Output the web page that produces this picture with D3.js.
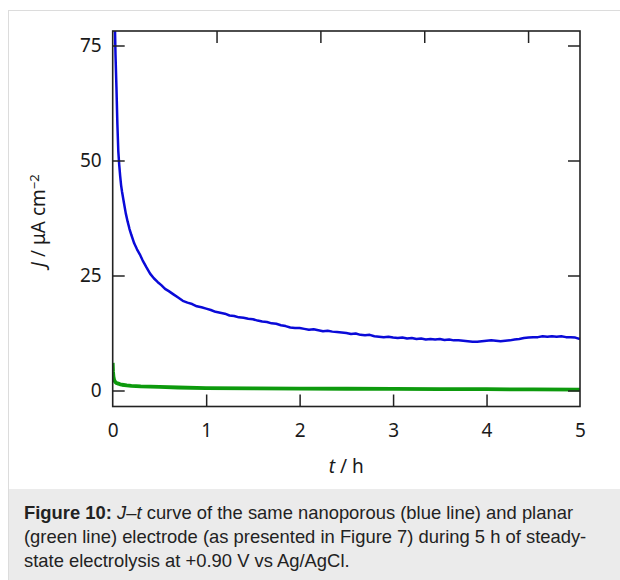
<!DOCTYPE html>
<html>
<head>
<meta charset="utf-8">
<script src="https://cdn.jsdelivr.net/npm/d3@7"></script>
<style>
  html, body { margin: 0; padding: 0; background: #fff; }
  svg { display: block; }
</style>
</head>
<body>
<svg id="chart" width="620" height="580"></svg>
<script>
// Nanoporous electrode current density (µA cm⁻²) over time (h)
const blueT = [0, 0.005, 0.01, 0.015, 0.02, 0.025, 0.03, 0.04, 0.05, 0.06, 0.07, 0.08, 0.09, 0.10,
  0.12, 0.14, 0.16, 0.18, 0.20, 0.23, 0.26, 0.29, 0.32, 0.36, 0.40, 0.44, 0.48, 0.52, 0.56, 0.60,
  0.65, 0.70, 0.75, 0.80, 0.85, 0.90, 0.95, 1.00, 1.05, 1.10, 1.15, 1.20, 1.25, 1.30, 1.35, 1.40,
  1.45, 1.50, 1.55, 1.60, 1.65, 1.70, 1.75, 1.80, 1.85, 1.90, 1.95, 2.00, 2.05, 2.10, 2.15, 2.20,
  2.25, 2.30, 2.35, 2.40, 2.45, 2.50, 2.55, 2.60, 2.65, 2.70, 2.75, 2.80, 2.85, 2.90, 2.95, 3.00,
  3.05, 3.10, 3.15, 3.20, 3.25, 3.30, 3.35, 3.40, 3.45, 3.50, 3.55, 3.60, 3.65, 3.70, 3.75, 3.80,
  3.85, 3.90, 3.95, 4.00, 4.05, 4.10, 4.15, 4.20, 4.25, 4.30, 4.35, 4.40, 4.45, 4.50, 4.55, 4.60,
  4.65, 4.70, 4.75, 4.80, 4.85, 4.90, 4.95, 5.00];
const blueJ = [160, 120, 98, 88, 82, 78, 73, 66, 58, 52, 49, 46.6, 44.6, 43.2,
  40.8, 38.5, 36.7, 35.1, 33.8, 32.0, 30.7, 29.6, 28.3, 26.8, 25.4, 24.4, 23.6, 22.9, 22.1, 21.6,
  20.9, 20.2, 19.5, 19.1, 18.8, 18.3, 18.1, 17.8, 17.5, 17.1, 16.9, 16.7, 16.3, 16.2, 15.9, 15.8,
  15.6, 15.5, 15.2, 15.0, 14.9, 14.6, 14.5, 14.2, 14.0, 13.7, 13.6, 13.6, 13.4, 13.2, 13.3, 13.1,
  12.9, 13.0, 12.8, 12.7, 12.6, 12.5, 12.3, 12.4, 12.1, 12.0, 12.1, 11.8, 11.7, 11.6, 11.7, 11.5,
  11.4, 11.5, 11.3, 11.4, 11.2, 11.3, 11.1, 11.2, 11.1, 11.2, 11.0, 11.1, 10.9, 10.9, 10.8, 10.7,
  10.6, 10.6, 10.7, 10.8, 10.9, 10.8, 10.7, 10.8, 10.9, 11.1, 11.2, 11.4, 11.5, 11.6, 11.6, 11.8,
  11.7, 11.8, 11.7, 11.8, 11.6, 11.6, 11.5, 11.2];

// Planar electrode current density
const greenT = [0, 0.003, 0.008, 0.015, 0.025, 0.04, 0.06, 0.08, 0.10, 0.15, 0.20, 0.30, 0.40,
  0.50, 0.70, 1.00, 1.50, 2.00, 2.50, 3.00, 3.50, 4.00, 4.50, 5.00];
const greenJ = [6.0, 4.2, 3.0, 2.3, 1.9, 1.65, 1.5, 1.35, 1.25, 1.1, 1.0, 0.9, 0.85,
  0.8, 0.65, 0.5, 0.45, 0.4, 0.38, 0.35, 0.3, 0.28, 0.25, 0.2];

const xTicks = [0, 1, 2, 3, 4, 5];
const yTicks = [0, 25, 50, 75];
const topTicks = [1, 2, 3, 4];

const svg = d3.select("#chart");
const W = 620, H = 580;

// outer panel and caption band
svg.append("rect").attr("x", 8.5).attr("y", 10.5).attr("width", W).attr("height", H)
  .attr("fill", "#fff").attr("stroke", "#dcdcdc").attr("stroke-width", 1);
svg.append("rect").attr("x", 9).attr("y", 489).attr("width", W - 9).attr("height", H - 489)
  .attr("fill", "#ebebeb");

const L = 112.7, R = 580, T = 31, B = 406.5;
const x = d3.scaleLinear().domain([0, 5]).range([L, R]);
const xTop = d3.scaleLinear().domain([0, 4.5]).range([L, R]);
const y = d3.scaleLinear().domain([0, 75]).range([390.5, 45.5]);

const tickFont = "'Noto Sans', sans-serif";
const tickSize = "19px";

svg.append("defs").append("clipPath").attr("id", "plotClip")
  .append("rect").attr("x", L).attr("y", T).attr("width", R - L).attr("height", B - T);

const line = d3.line().x(d => x(d[0])).y(d => y(d[1]));
const plot = svg.append("g").attr("clip-path", "url(#plotClip)");

plot.append("path")
  .datum(greenT.map((t, i) => [t, greenJ[i]]))
  .attr("d", line).attr("fill", "none")
  .attr("stroke", "#0d9a0d").attr("stroke-width", 3.8).attr("stroke-linejoin", "round");

plot.append("path")
  .datum(blueT.map((t, i) => [t, blueJ[i]]))
  .attr("d", line).attr("fill", "none")
  .attr("stroke", "#0a0ad8").attr("stroke-width", 2.5).attr("stroke-linejoin", "round");

function styleAxis(g) {
  g.select(".domain").remove();
  g.selectAll(".tick line").attr("stroke", "#222").attr("stroke-width", 1.5);
  g.selectAll(".tick text").attr("fill", "#1a1a1a")
    .style("font-family", tickFont).style("font-size", tickSize);
}

// bottom: inward tick marks at interior positions
svg.append("g").attr("transform", `translate(0,${B})`)
  .call(d3.axisBottom(x).tickValues(xTicks.slice(1, -1)).tickSizeInner(-12).tickSizeOuter(0).tickFormat(""))
  .call(styleAxis);
// bottom: labels for every tick, corners included
svg.append("g").attr("transform", `translate(0,${B})`)
  .call(d3.axisBottom(x).tickValues(xTicks).tickSize(0).tickPadding(17).tickFormat(d3.format("d")))
  .call(g => g.selectAll(".tick line").remove())
  .call(styleAxis);

svg.append("g").attr("transform", `translate(0,${T})`)
  .call(d3.axisTop(xTop).tickValues(topTicks).tickSizeInner(-12).tickSizeOuter(0).tickFormat(""))
  .call(styleAxis);

svg.append("g").attr("transform", `translate(${L},0)`)
  .call(d3.axisLeft(y).tickValues(yTicks).tickSizeInner(-12).tickSizeOuter(0).tickPadding(11))
  .call(styleAxis);

svg.append("g").attr("transform", `translate(${R},0)`)
  .call(d3.axisRight(y).tickValues(yTicks).tickSizeInner(-12).tickSizeOuter(0).tickFormat(""))
  .call(styleAxis);

// plot frame
svg.append("rect").attr("x", L).attr("y", T).attr("width", R - L).attr("height", B - T)
  .attr("fill", "none").attr("stroke", "#222").attr("stroke-width", 1.6);

// axis titles
const xt = svg.append("text").attr("x", (L + R) / 2).attr("y", 473)
  .attr("text-anchor", "middle").attr("fill", "#1a1a1a")
  .style("font-family", tickFont).style("font-size", "19px");
xt.append("tspan").style("font-style", "italic").text("t");
xt.append("tspan").text(" / h");

const yt = svg.append("text")
  .attr("transform", `translate(45,${(T + B) / 2 + 2}) rotate(-90)`)
  .attr("text-anchor", "middle").attr("fill", "#1a1a1a")
  .style("font-family", tickFont).style("font-size", "19px");
yt.append("tspan").style("font-style", "italic").text("J");
yt.append("tspan").text(" / μA cm");
yt.append("tspan").attr("dy", "-0.45em").style("font-size", "13px").text("−2");

// caption
const capFont = "'Liberation Sans', Arial, sans-serif";
const capLines = [
  [["b", "Figure 10:"], ["n", " "], ["i", "J"], ["n", "–"], ["i", "t"], ["n", " curve of the same nanoporous (blue line) and planar"]],
  [["n", "(green line) electrode (as presented in Figure 7) during 5 h of steady-"]],
  [["n", "state electrolysis at +0.90 V vs Ag/AgCl."]]
];
capLines.forEach((parts, i) => {
  const t = svg.append("text").attr("x", 24).attr("y", 519 + i * 24)
    .attr("fill", "#222").style("font-family", capFont).style("font-size", "18.4px");
  parts.forEach(([k, s]) => {
    const sp = t.append("tspan").text(s);
    if (k === "b") sp.style("font-weight", "bold");
    if (k === "i") sp.style("font-style", "italic");
  });
});
</script>
</body>
</html>
